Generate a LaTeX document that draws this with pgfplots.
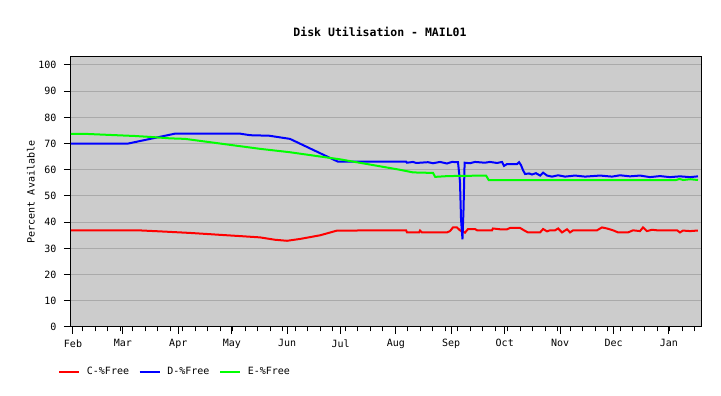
\documentclass[border=0pt]{standalone}
\usepackage{fontspec}
\setmainfont{DejaVu Sans Mono}
\usepackage{pgfplots}
\pgfplotsset{compat=1.18}
\usepackage{pgfplotstable}
\definecolor{bg}{RGB}{204,204,204}
\definecolor{gridgray}{RGB}{170,170,170}
\definecolor{cred}{RGB}{255,0,0}
\definecolor{cblue}{RGB}{0,0,255}
\definecolor{cgreen}{RGB}{0,255,0}

\pgfplotstableread{
d v
-1.12 36.9
36.4 36.9
51.6 36.4
65.6 35.9
75.1 35.5
84.1 35.1
93.6 34.7
104.8 34.2
113.2 33.3
120 32.9
127.2 33.6
138.5 35.0
148 36.8
186.7 36.9
187.2 36.1
194 36.1
194.5 36.8
195.6 36.1
209.6 36.1
211.3 36.6
213 38.0
215.2 38.0
216.9 36.9
219.7 36.0
221.4 37.4
225.3 37.4
226.5 36.9
234.9 36.9
235.4 37.6
239.3 37.3
243.3 37.3
245 37.8
250.6 37.8
252.8 36.9
255 36.1
261.8 36.1
263.5 37.4
265.7 36.5
267.4 36.9
270.2 36.9
271.9 37.6
274.1 36.1
276.9 37.3
278.6 36.1
280.3 36.9
293.7 36.9
296.5 38.0
299.3 37.6
302.7 36.9
305.5 36.1
311.1 36.1
313.9 36.9
317.8 36.6
319.5 38.0
321.7 36.6
324.6 37.1
327.4 36.9
338.6 36.9
340.2 36.1
341.9 36.8
345.9 36.6
349.8 36.8
350.3 36.8
}\cdata

\pgfplotstableread{
d v
-1.12 70
30.8 70
57.2 73.8
93.6 73.8
99.2 73.2
110 73.0
121.6 71.8
148.5 63.1
186.7 63.1
187.2 62.7
190.6 63.0
192.3 62.6
199 62.9
201.8 62.5
205.7 63.0
209.6 62.4
212.4 63.0
215.8 62.9
216.9 55.5
217.5 41
218.3 33.5
218.9 45
219.5 62.7
222.5 62.5
225.3 63.0
230.9 62.7
233.7 63.0
237.7 62.6
240.5 63.0
241.6 61.5
243.3 62.2
248.9 62.2
250 62.9
251.1 61.8
252.2 59.9
253.4 58.4
255.6 58.6
257.3 58.2
259.5 58.7
261.8 57.8
263.5 58.9
265.7 57.8
268.5 57.4
271.9 57.9
275.8 57.4
281.4 57.8
287 57.4
295.4 57.8
302.1 57.4
306.6 57.9
312.2 57.5
317.8 57.8
323.4 57.2
329 57.6
334.6 57.2
340.2 57.5
345.9 57.2
350.3 57.5
}\ddata

\pgfplotstableread{
d v
-1.12 73.7
7.3 73.7
20.7 73.3
34.7 72.9
44.3 72.5
54.3 72.0
62.8 71.8
104.8 68.0
121.6 66.7
149.6 64.0
183.3 60.0
190.6 59.0
201.8 58.8
203 57.3
210.2 57.6
231.5 57.8
233 56.1
338 56.1
340 56.5
342 56.1
346 56.4
350.3 56.1
}\edata

\begin{document}
\begin{tikzpicture}[x=1pt,y=1pt]
\useasboundingbox (0,0) rectangle (721,396);
\begin{axis}[
  at={(71pt,69pt)}, anchor=south west,
  scale only axis, width=630pt, height=270pt,
  xmin=-1.12, xmax=352.0, ymin=0, ymax=103.05,
  axis background/.style={fill=bg},
  axis line style={black, line width=1pt},
  tick style={black, line width=1pt},
  tick align=outside,
  xtick pos=bottom, ytick pos=left,
  major tick length=7pt, minor tick length=4.5pt,
  xtick={0,28,59,89,120,150,181,212,242,273,303,334},
  xticklabels={Feb,Mar,Apr,May,Jun,Jul,Aug,Sep,Oct,Nov,Dec,Jan},
  minor xtick={5.6,12.6,...,350},
  ytick={0,10,...,100},
  ymajorgrids,
  grid style={gridgray, line width=1pt},
  /pgf/number format/assume math mode=true,
  tick label style={font=\fontsize{10}{12}\selectfont},
  yticklabel style={xshift=-4pt},
  xticklabel style={yshift=-2pt},
  ylabel={Percent Available},
  ylabel style={at={(axis description cs:-0.0635,0.5)}, anchor=center, font=\fontsize{10}{12}\selectfont},
  title={Disk Utilisation - MAIL01},
  title style={at={(axis description cs:0.4905,1.0704)}, anchor=center, font=\fontsize{11.5}{13}\selectfont\bfseries},
  legend style={draw=none, fill=none, at={(axis description cs:-0.0206,-0.165)}, anchor=west,
    inner sep=0pt, font=\fontsize{10}{12}\selectfont,
    /tikz/every odd column/.append style={column sep=4.7pt},
    /tikz/every even column/.append style={column sep=7.6pt}},
  legend columns=3,
  legend image code/.code={\draw[#1] (0pt,0pt) -- (20pt,0pt);},
]
\addplot[cred, line width=2pt] table[x=d,y=v] {\cdata};
\addlegendentry{C-\%Free}
\addplot[cblue, line width=2pt] table[x=d,y=v] {\ddata};
\addlegendentry{D-\%Free}
\addplot[cgreen, line width=2pt] table[x=d,y=v] {\edata};
\addlegendentry{E-\%Free}
\end{axis}
\end{tikzpicture}
\end{document}
